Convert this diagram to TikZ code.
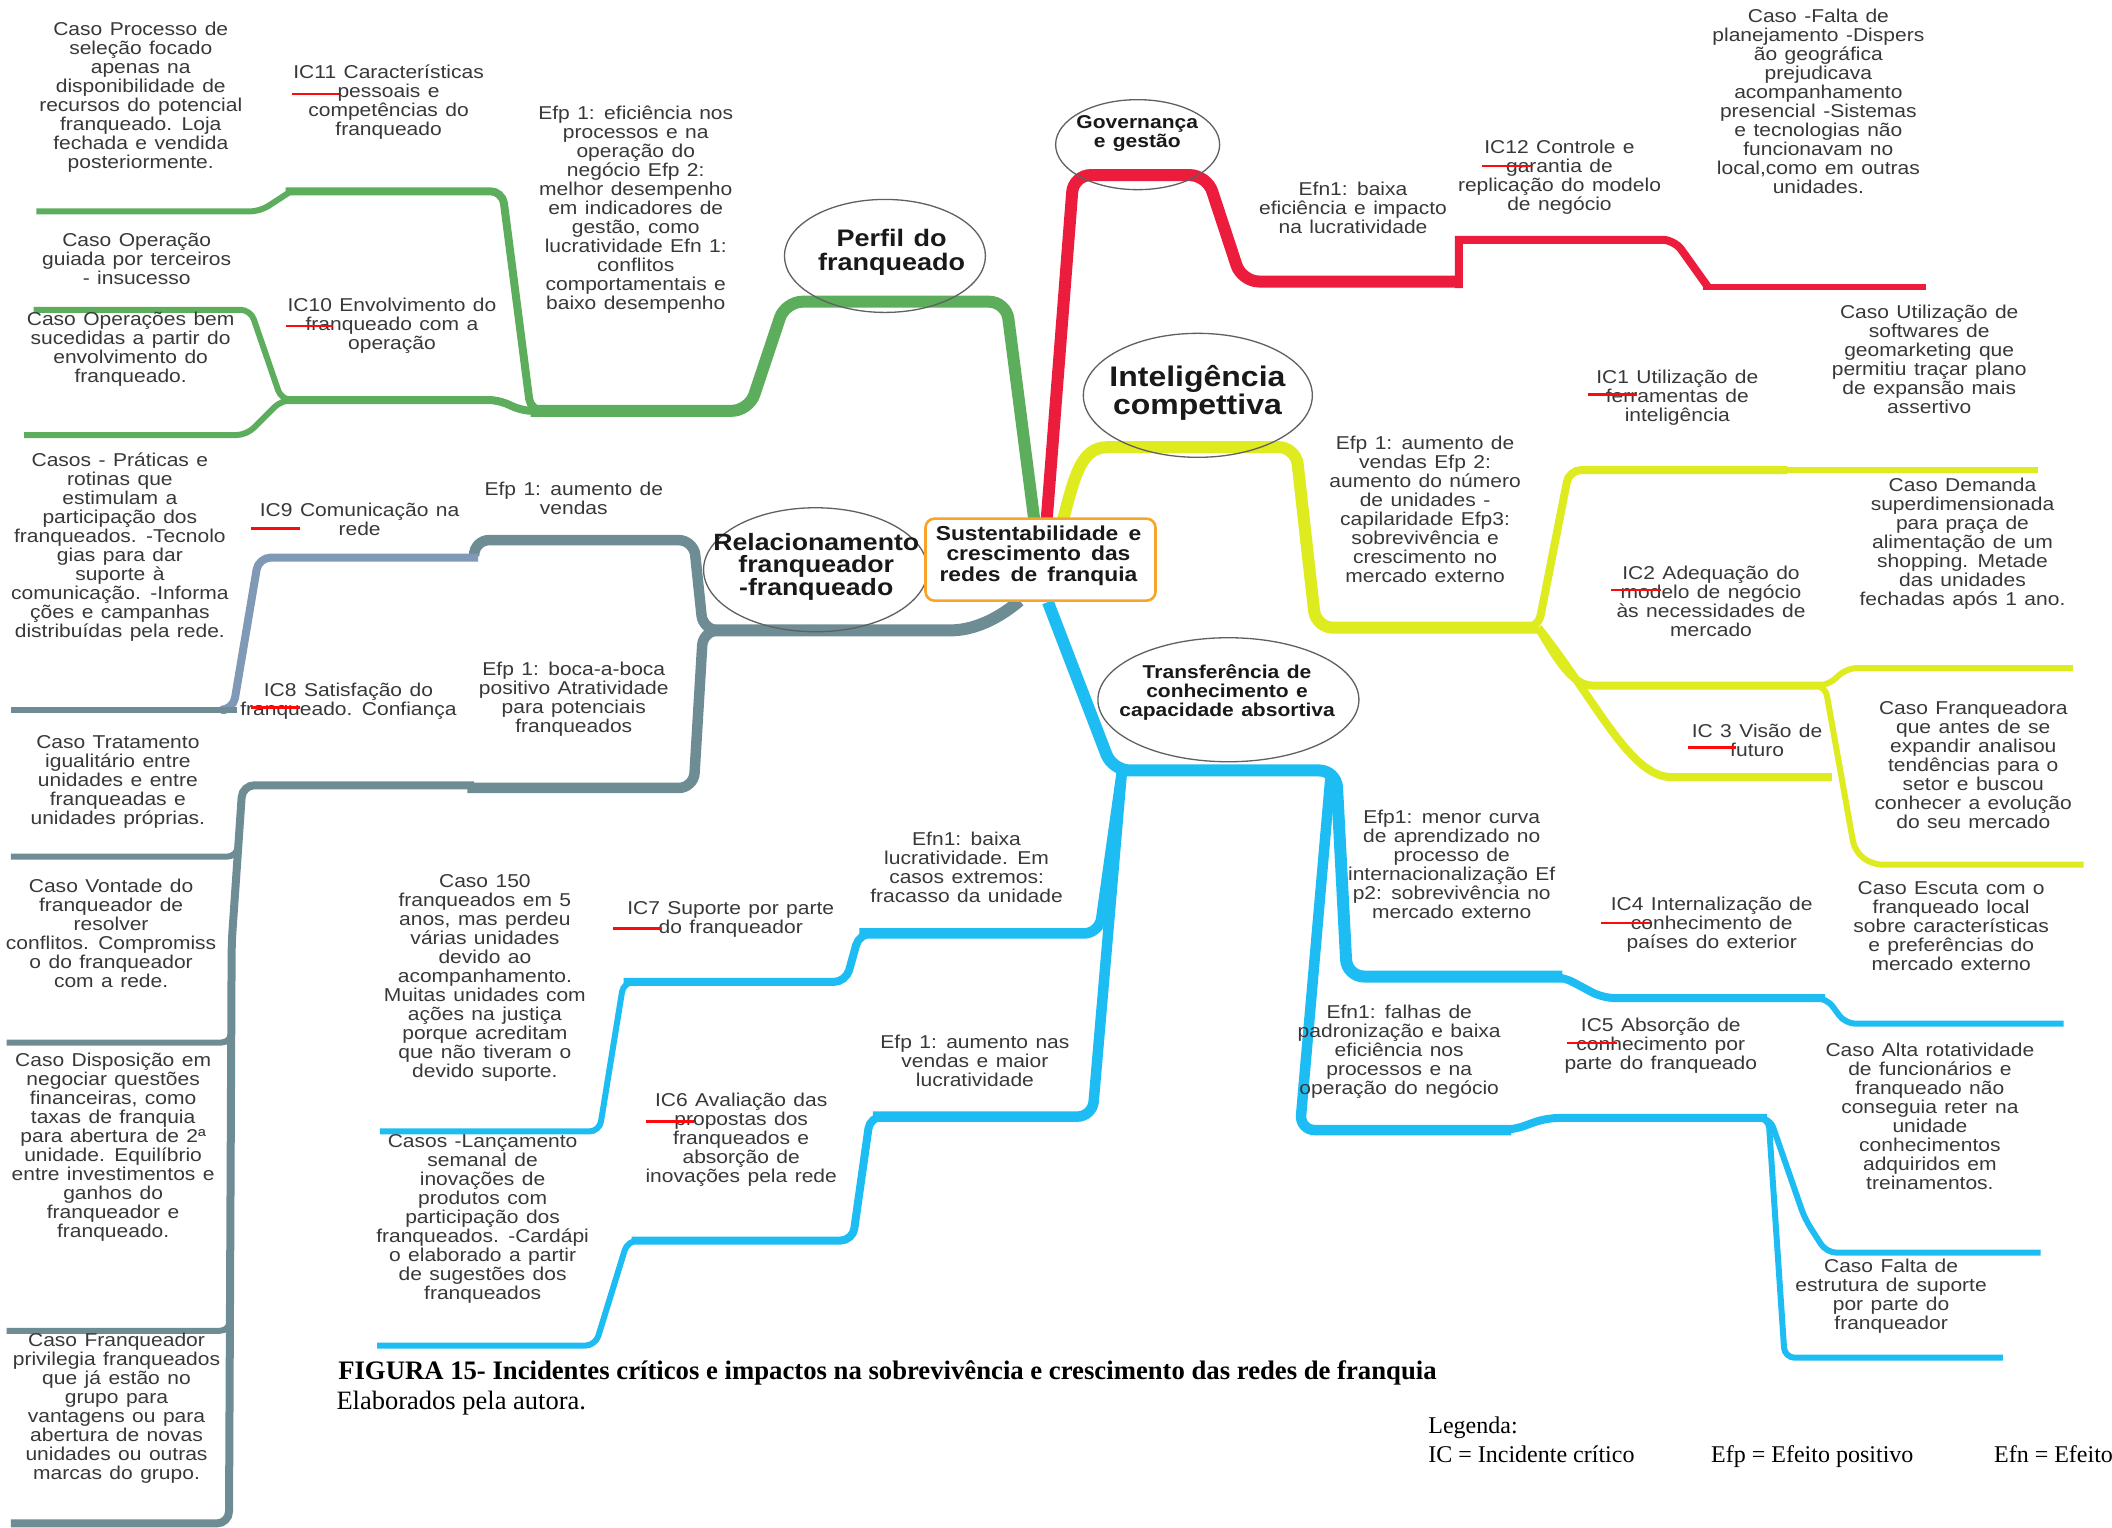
\documentclass[tikz,border=0pt]{standalone}
\usepackage{fontspec}
\usetikzlibrary{shapes.geometric}
\newfontfamily\armap{Liberation Sans}[FakeStretch=1.13]
\newfontfamily\tnr{Liberation Serif}
\newcommand\fsz[2]{\fontsize{#1}{#2}\selectfont\spaceskip=0.4em plus 0.1em minus 0.05em\relax}
\newcommand\bodyf{\armap\fsz{18.6}{19}}
\newcommand\hubf{\armap\bfseries\fontsize{20.2}{20.3}\selectfont\spaceskip=0.5em plus 0.1em\relax}
\definecolor{cgreen}{HTML}{5CAE5C}
\definecolor{cred}{HTML}{EC1C3D}
\definecolor{cyel}{HTML}{DDEB1F}
\definecolor{cgray}{HTML}{6E8C94}
\definecolor{cgrayb}{HTML}{8099B6}
\definecolor{ccyan}{HTML}{1DBDF4}
\definecolor{corange}{HTML}{F6A52A}
\definecolor{ctext}{HTML}{383838}
\definecolor{ovalc}{HTML}{606060}
\definecolor{markred}{HTML}{FF0A0A}
\begin{document}
\begin{tikzpicture}[x=1.3469pt,y=-1.3469pt,
  brTrunk/.style={line width=12pt,rounded corners=17pt},
  brEff/.style={line width=10.5pt,rounded corners=15pt},
  brMid/.style={line width=8pt,rounded corners=12pt},
  brLeaf/.style={line width=6pt,rounded corners=10pt},
  txt/.style={font=\bodyf,text=ctext,align=center,inner sep=0pt},
  ttl/.style={text=black!90,align=center,inner sep=0pt},
  oval/.style={ellipse,draw=ovalc,line width=1.3pt,inner sep=0pt},
  redmark/.style={draw=markred,line width=2.8pt}]
\useasboundingbox (0,0) rectangle (1568,1134);
\fill[white] (0,0) rectangle (1568,1134);

% ---------- Perfil do franqueado (green)
\coordinate (gS) at (768,387);
\coordinate (gJ) at (394,305);
\draw[brTrunk,cgreen] (gS) -- (747,224) -- (583,224) -- (556,305) -- (gJ);
\draw[brMid,cgreen] (404,305) -- (gJ) -- (373,142) -- (212,142);
\draw[brLeaf,cgreen] (216,142) -- (193,157) -- (27,157);
\draw[brMid,cgreen] (404,305) -- (386,305) -- (372,297) -- (212,297);
\draw[brLeaf,cgreen] (218,297) -- (209,297) -- (186,230) -- (25,230);
\draw[brLeaf,cgreen] (218,297) -- (209,297) -- (183,323) -- (18,323);

% ---------- Governanca e gestao (red)
\coordinate (rS) at (777,387);
\draw[brTrunk,cred] (rS) -- (797,130) -- (896,130) -- (922,209) -- (1086,209);
\draw[brMid,cred,sharp corners] (1083,214) -- (1083,178) [rounded corners=12pt] -- (1243,178) -- (1268,213);
\draw[brLeaf,cred] (1264,213) -- (1430,213);

% ---------- Inteligencia competitiva (yellow)
\coordinate (yS) at (789,387);
\coordinate (yJ) at (1142,466);
\draw[brTrunk,cyel] (yS) .. controls (798,352) and (803,332) .. (835,332) -- (962,332) -- (977,466) -- (yJ);
\draw[brMid,cyel] (1132,466) -- (yJ) -- (1165,349) -- (1327,349);
\draw[brLeaf,cyel] (1322,349) -- (1513,349);
\draw[brMid,cyel] (yJ) .. controls (1158,493) and (1168,509) .. (1192,509) -- (1353,509);
\draw[brLeaf,cyel] (1347,509) -- (1357,509) -- (1371,496) -- (1539,496);
\draw[brLeaf,cyel] (1347,509) -- (1355,509) -- (1377,632) -- (1390,642) -- (1547,642);
\draw[brMid,cyel] (yJ) .. controls (1185,520) and (1210,577) .. (1250,577) -- (1360,577);

% ---------- Transferencia de conhecimento (cyan)
\coordinate (cS) at (778,447);
\coordinate (cL) at (833,572);
\coordinate (cR) at (988,574);
\draw[brTrunk,ccyan] (cS) -- (826,572) -- (992,572) -- (1000,725) -- (1160,725);
\draw[brMid,ccyan] (1153,725) -- (1160,725) -- (1190,741) -- (1355,741);
\draw[brLeaf,ccyan] (1349,741) -- (1356,741) -- (1370,760) -- (1532,760);
\draw[brEff,ccyan] (cR) -- (965,839) -- (1122,839);
\draw[brMid,ccyan] (1116,839) -- (1123,839) -- (1148,830) -- (1312,830);
\draw[brLeaf,ccyan] (1306,830) -- (1314,830) -- (1340,905) -- (1356,930) -- (1515,930);
\draw[brLeaf,ccyan] (1306,830) -- (1313,830) -- (1325,1008) -- (1487,1008);
\draw[brEff,ccyan] (cL) -- (811,829) -- (648,829);
\draw[brMid,ccyan] (654,829) -- (646,829) -- (633,921) -- (469,921);
\draw[brLeaf,ccyan] (474,921) -- (466,921) -- (442,999) -- (280,999);
\draw[brEff,ccyan] (cL) -- (816,693) -- (638,693);
\draw[brMid,ccyan] (644,693) -- (638,693) -- (628,729) -- (463,729);
\draw[brLeaf,ccyan] (468,729) -- (463,729) -- (445,840) -- (282,840);

% ---------- Relacionamento franqueador-franqueado (grey)
\coordinate (gyS) at (757,446);
\coordinate (gyJ) at (527,468);
\draw[brTrunk,cgray] (gyS) .. controls (738,462) and (720,468) .. (693,468) -- (gyJ);
\draw[brEff,cgray] (540,468) -- (522,468) -- (515,401) -- (352,401) [sharp corners] -- (352,413);
\draw[brMid,cgrayb] (355,414) -- (192,414) -- (173,527) -- (168,527);
\draw[brLeaf,cgray] (176,527) -- (8,527);
\draw[brEff,cgray] (540,468) -- (522,468) -- (515,585) -- (347,585);
\draw[brMid,cgray] (352,583) -- (180,583) -- (172,700) -- (170,1131) -- (8,1131);
\draw[brLeaf,cgray] (178,612) -- (176,636) -- (8,636);
\draw[brLeaf,cgray] (171.8,750) -- (171.7,774) -- (5,774);
\draw[brLeaf,cgray] (170.8,964) -- (170.7,988) -- (5,988);

% ---------- topic ellipses and central box
\node[oval,minimum width=201pt,minimum height=113pt] (o1) at (657,190) {};
\node[oval,minimum width=164pt,minimum height=90pt] (o2) at (844.6,107.4) {};
\node[oval,minimum width=229pt,minimum height=124pt] (o3) at (889.3,293.5) {};
\node[oval,minimum width=224pt,minimum height=124pt] (o4) at (605.5,423) {};
\node[oval,minimum width=261pt,minimum height=124pt] (o5) at (912,519.5) {};
\node[draw=corange,line width=2.6pt,fill=white,rounded corners=9pt,
      minimum width=230pt,minimum height=82pt,inner sep=0pt] (hub) at (772.5,415.5) {};

\node[ttl,font=\hubf] (hubt) at (771,412.4) {Sustentabilidade e\\crescimento das\\redes de franquia};
\node[ttl,font=\armap\bfseries\fsz{23.9}{24}] (t1) at (662,187) {Perfil do\\franqueado};
\node[ttl,font=\armap\bfseries\fsz{18.6}{19.4}] (t2) at (844.3,99.2) {Governança\\e gestão};
\node[ttl,font=\armap\bfseries\fsz{28.3}{28.4}] (t3) at (889,291.5) {Inteligência\\compettiva};
\node[ttl,font=\armap\bfseries\fsz{23.6}{21.7}] (t4) at (606,421) {Relacionamento\\franqueador\\-franqueado};
\node[ttl,font=\armap\bfseries\fsz{18.6}{18.9}] (t5) at (911,514.3) {Transferência de\\conhecimento e\\capacidade absortiva};

% ---------- green labels
\node[txt] (c11) at (104.5,72) {Caso Processo de\\seleção focado\\apenas na\\disponibilidade de\\recursos do potencial\\franqueado. Loja\\fechada e vendida\\posteriormente.};
\node[txt] (ic11) at (288.5,75.5) {IC11 Características\\pessoais e\\competências do\\franqueado};
\node[txt] (e11) at (472,155.7) {Efp 1: eficiência nos\\processos e na\\operação do\\negócio Efp 2:\\melhor desempenho\\em indicadores de\\gestão, como\\lucratividade Efn 1:\\conflitos\\comportamentais e\\baixo desempenho};
\node[txt] (c10a) at (101.5,192.5) {Caso Operação\\guiada por terceiros\\- insucesso};
\node[txt] (ic10) at (291,242) {IC10 Envolvimento do\\franqueado com a\\operação};
\node[txt] (c10b) at (97,259) {Caso Operações bem\\sucedidas a partir do\\envolvimento do\\franqueado.};

% ---------- red labels
\node[txt] (eg) at (1004.5,154.5) {Efn1: baixa\\eficiência e impacto\\na lucratividade};
\node[txt] (ic12) at (1157.8,131.2) {IC12 Controle e\\garantia de\\replicação do modelo\\de negócio};
\node[txt] (c12) at (1350,75.5) {Caso -Falta de\\planejamento -Dispers\\ão geográfica\\prejudicava\\acompanhamento\\presencial -Sistemas\\e tecnologias não\\funcionavam no\\local,como em outras\\unidades.};

% ---------- yellow labels
\node[txt] (ey) at (1058,378.5) {Efp 1: aumento de\\vendas Efp 2:\\aumento do número\\de unidades -\\capilaridade Efp3:\\sobrevivência e\\crescimento no\\mercado externo};
\node[txt] (ic1) at (1245.3,295) {IC1 Utilização de\\ferramentas de\\inteligência};
\node[txt] (c1) at (1432.3,267) {Caso Utilização de\\softwares de\\geomarketing que\\permitiu traçar plano\\de expansão mais\\assertivo};
\node[txt] (ic2) at (1270.3,446.3) {IC2 Adequação do\\modelo de negócio\\às necessidades de\\mercado};
\node[txt] (c2) at (1457,403.5) {Caso Demanda\\superdimensionada\\para praça de\\alimentação de um\\shopping. Metade\\das unidades\\fechadas após 1 ano.};
\node[txt] (ic3) at (1304.5,549.5) {IC 3 Visão de\\futuro};
\node[txt] (c3) at (1465,567.7) {Caso Franqueadora\\que antes de se\\expandir analisou\\tendências para o\\setor e buscou\\conhecer a evolução\\do seu mercado};

% ---------- cyan labels
\node[txt] (et1) at (1077.8,641.5) {Efp1: menor curva\\de aprendizado no\\processo de\\internacionalização Ef\\p2: sobrevivência no\\mercado externo};
\node[txt] (ic4) at (1270.8,686.6) {IC4 Internalização de\\conhecimento de\\países do exterior};
\node[txt] (c4) at (1448.6,687.4) {Caso Escuta com o\\franqueado local\\sobre características\\e preferências do\\mercado externo};
\node[txt] (et2) at (1038.8,780.5) {Efn1: falhas de\\padronização e baixa\\eficiência nos\\processos e na\\operação do negócio};
\node[txt] (ic5) at (1233,776) {IC5 Absorção de\\conhecimento por\\parte do franqueado};
\node[txt] (c5a) at (1432.8,828.8) {Caso Alta rotatividade\\de funcionários e\\franqueado não\\conseguia reter na\\unidade\\conhecimentos\\adquiridos em\\treinamentos.};
\node[txt] (c5b) at (1404,962) {Caso Falta de\\estrutura de suporte\\por parte do\\franqueador};
\node[txt] (et3) at (717.6,643.8) {Efn1: baixa\\lucratividade. Em\\casos extremos:\\fracasso da unidade};
\node[txt] (ic7) at (542.5,682.7) {IC7 Suporte por parte\\do franqueador};
\node[txt] (c7) at (360,725.8) {Caso 150\\franqueados em 5\\anos, mas perdeu\\várias unidades\\devido ao\\acompanhamento.\\Muitas unidades com\\ações na justiça\\porque acreditam\\que não tiveram o\\devido suporte.};
\node[txt] (et4) at (723.8,787.9) {Efp 1: aumento nas\\vendas e maior\\lucratividade};
\node[txt] (ic6) at (550.3,846.4) {IC6 Avaliação das\\propostas dos\\franqueados e\\absorção de\\inovações pela rede};
\node[txt] (c6) at (358.3,905.3) {Casos -Lançamento\\semanal de\\inovações de\\produtos com\\participação dos\\franqueados. -Cardápi\\o elaborado a partir\\de sugestões dos\\franqueados};

% ---------- grey labels
\node[txt] (c9) at (89,406.5) {Casos - Práticas e\\rotinas que\\estimulam a\\participação dos\\franqueados. -Tecnolo\\gias para dar\\suporte à\\comunicação. -Informa\\ções e campanhas\\distribuídas pela rede.};
\node[txt] (ic9) at (267,385.4) {IC9 Comunicação na\\rede};
\node[txt] (er1) at (426,370) {Efp 1: aumento de\\vendas};
\node[txt] (ic8) at (258.7,520.5) {IC8 Satisfação do\\franqueado. Confiança};
\node[txt] (er2) at (426,519.3) {Efp 1: boca-a-boca\\positivo Atratividade\\para potenciais\\franqueados};
\node[txt] (c8a) at (87.5,580.6) {Caso Tratamento\\igualitário entre\\unidades e entre\\franqueadas e\\unidades próprias.};
\node[txt] (c8b) at (82.5,693) {Caso Vontade do\\franqueador de\\resolver\\conflitos. Compromiss\\o do franqueador\\com a rede.};
\node[txt] (c8c) at (84,851.8) {Caso Disposição em\\negociar questões\\financeiras, como\\taxas de franquia\\para abertura de 2ª\\unidade. Equilíbrio\\entre investimentos e\\ganhos do\\franqueador e\\franqueado.};
\node[txt] (c8d) at (86.5,1045.4) {Caso Franqueador\\privilegia franqueados\\que já estão no\\grupo para\\vantagens ou para\\abertura de novas\\unidades ou outras\\marcas do grupo.};

% ---------- red marks on the incident labels
\foreach \xa/\xb/\yy in {216.7/251.7/69.8, 212.3/247.3/242, 186.7/222.7/392.4,
    186.7/222.7/525, 455/491.5/689.6, 479.4/515.2/832.6, 1100.3/1137/123.3,
    1178.6/1215.3/292.8, 1196.3/1233/438, 1253/1288.6/554.7,
    1188.6/1225.3/685.2, 1163.6/1200.3/774.4}
  \draw[redmark] (\xa,\yy) -- (\xb,\yy);

% ---------- caption and legend
\node[anchor=base west,inner sep=0pt,font=\tnr\bfseries\fontsize{26.7}{30}\selectfont] (cap) at (251,1024) {FIGURA 15- Incidentes críticos e impactos na sobrevivência e crescimento das redes de franquia};
\node[anchor=base west,inner sep=0pt,font=\tnr\fontsize{26.5}{30}\selectfont] (src) at (249.7,1046.5) {Elaborados pela autora.};
\node[anchor=base west,inner sep=0pt,font=\tnr\fontsize{24}{28}\selectfont] (leg) at (1060.3,1064.5) {Legenda:};
\node[anchor=base west,inner sep=0pt,font=\tnr\fontsize{24}{28}\selectfont] (leg1) at (1060.3,1085.6) {IC = Incidente crítico};
\node[anchor=base west,inner sep=0pt,font=\tnr\fontsize{24}{28}\selectfont] (leg2) at (1270.3,1085.6) {Efp = Efeito positivo};
\node[anchor=base west,inner sep=0pt,font=\tnr\fontsize{24}{28}\selectfont] (leg3) at (1480.3,1085.6) {Efn = Efeito};
\end{tikzpicture}
\end{document}
